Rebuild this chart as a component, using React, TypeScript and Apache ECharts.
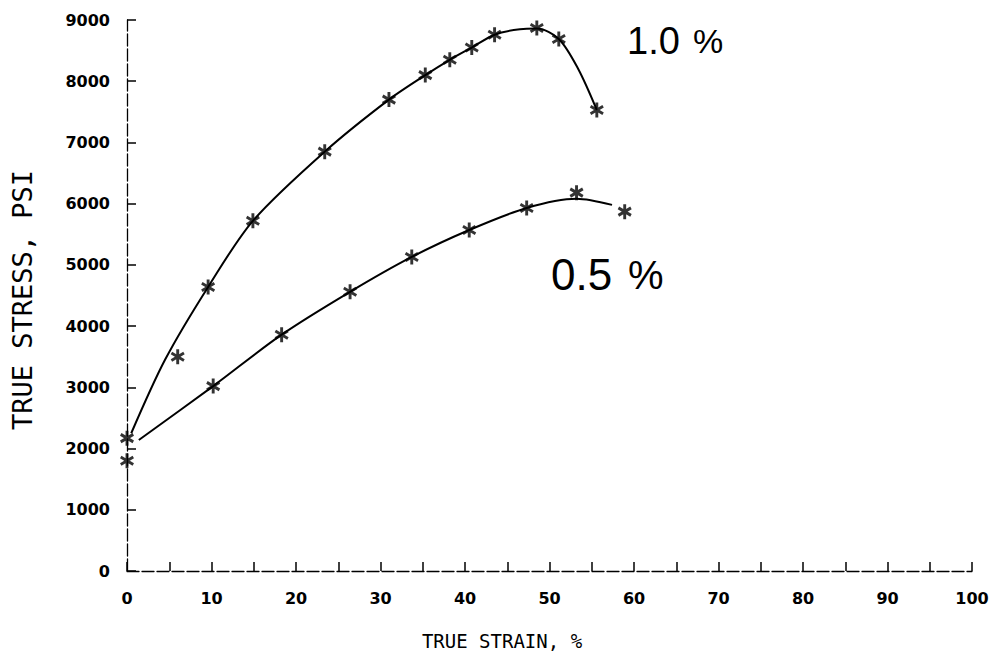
import React, { useEffect, useRef } from "react";
import * as echarts from "echarts";

// Measured points (asterisks)
const strainHigh = [0, 6.0, 9.6, 14.9, 23.4, 31.0, 35.3, 38.2, 40.8, 43.5, 48.5, 51.1, 55.6];
const stressHigh = [2170, 3500, 4640, 5720, 6850, 7700, 8100, 8350, 8550, 8760, 8870, 8690, 7530];
const strainLow = [0, 10.2, 18.3, 26.4, 33.7, 40.5, 47.3, 53.2, 58.9];
const stressLow = [1800, 3020, 3860, 4560, 5130, 5570, 5930, 6180, 5870];

// Drawn (fitted) curves
const curveHighStrain = [0.5, 4.5, 9.6, 14.9, 23.4, 31.0, 35.3, 38.2, 40.8, 43.5, 46.5, 48.5, 51.1, 53.4, 55.6];
const curveHighStress = [2250, 3450, 4640, 5720, 6850, 7700, 8100, 8350, 8550, 8760, 8850, 8860, 8690, 8200, 7530];
const curveLowStrain = [1.4, 10.2, 18.3, 26.4, 33.7, 40.5, 47.3, 53.2, 57.4];
const curveLowStress = [2140, 3020, 3860, 4560, 5130, 5570, 5930, 6080, 5980];

const xTicks = [0, 10, 20, 30, 40, 50, 60, 70, 80, 90, 100];
const yTicks = [0, 1000, 2000, 3000, 4000, 5000, 6000, 7000, 8000, 9000];

const labelHigh = "1.0";
const labelLow = "0.5";

const STAR =
  "path://M-2,-10L2,-10L2,10L-2,10Z" +
  "M-9.66,-3.27L-7.66,-6.73L9.66,3.27L7.66,6.73Z" +
  "M-7.66,6.73L-9.66,3.27L7.66,-6.73L9.66,-3.27Z";

const zip = (a: number[], b: number[]) => a.map((v, i) => [v, b[i]]);

export default function App() {
  const ref = useRef<HTMLDivElement>(null);
  useEffect(() => {
    if (!ref.current) return;
    const chart = echarts.init(ref.current, undefined, { renderer: "svg" });
    const mono = "'DejaVu Sans Mono', monospace";
    const tickFont = "'DejaVu Sans', sans-serif";
    chart.setOption({
      animation: false,
      backgroundColor: "#ffffff",
      grid: { left: 127, right: 20, top: 20, bottom: 93, containLabel: false },
      xAxis: {
        type: "value",
        min: 0,
        max: 100,
        interval: 5,
        axisLine: { show: true, lineStyle: { color: "#000", width: 1.3, type: [12, 3] } },
        axisTick: { show: true, inside: true, length: 9, lineStyle: { color: "#000", width: 1.5 } },
        axisLabel: {
          margin: 19,
          color: "#000",
          fontFamily: tickFont,
          fontWeight: "bold",
          fontSize: 16,
          formatter: (v: number) => (xTicks.indexOf(v) >= 0 ? String(v) : ""),
        },
        splitLine: { show: false },
      },
      yAxis: {
        type: "value",
        min: 0,
        max: 9000,
        interval: 1000,
        axisLine: { show: true, lineStyle: { color: "#000", width: 1.3, type: [12, 3] } },
        axisTick: { show: true, inside: true, length: 9, lineStyle: { color: "#000", width: 1.5 } },
        axisLabel: {
          margin: 17,
          color: "#000",
          fontFamily: tickFont,
          fontWeight: "bold",
          fontSize: 16,
          formatter: (v: number) => (yTicks.indexOf(v) >= 0 ? String(v) : ""),
        },
        splitLine: { show: false },
      },
      series: [
        {
          type: "line",
          data: zip(curveHighStrain, curveHighStress),
          smooth: 0.3,
          symbol: "none",
          lineStyle: { color: "#000", width: 2 },
          z: 2,
        },
        {
          type: "line",
          data: zip(curveLowStrain, curveLowStress),
          smooth: 0.3,
          symbol: "none",
          lineStyle: { color: "#000", width: 2 },
          z: 2,
        },
        {
          type: "scatter",
          data: zip(strainHigh, stressHigh),
          symbol: STAR,
          symbolSize: [14, 15],
          itemStyle: { color: "#000" },
          z: 3,
        },
        {
          type: "scatter",
          data: zip(strainLow, stressLow),
          symbol: STAR,
          symbolSize: [14, 15],
          itemStyle: { color: "#000" },
          z: 3,
        },
      ],
      graphic: [
        {
          type: "text",
          x: 502,
          y: 641,
          style: {
            text: "TRUE STRAIN, %",
            fontFamily: mono,
            fontSize: 19,
            fill: "#000",
            textAlign: "center",
            textVerticalAlign: "middle",
          },
        },
        {
          type: "text",
          x: 22,
          y: 300,
          rotation: Math.PI / 2,
          style: {
            text: "TRUE STRESS, PSI",
            fontFamily: mono,
            fontSize: 27,
            fill: "#000",
            textAlign: "center",
            textVerticalAlign: "middle",
          },
        },
        {
          type: "text",
          x: 627,
          y: 22,
          style: {
            text: labelHigh,
            fontFamily: "'Liberation Sans', Arial, sans-serif",
            fontSize: 38,
            fill: "#000",
            textAlign: "left",
            textVerticalAlign: "top",
          },
        },
        {
          type: "text",
          x: 693,
          y: 24,
          style: {
            text: "%",
            fontFamily: "'Liberation Sans', Arial, sans-serif",
            fontSize: 34,
            fill: "#000",
            textAlign: "left",
            textVerticalAlign: "top",
          },
        },
        {
          type: "text",
          x: 551,
          y: 252,
          style: {
            text: labelLow,
            fontFamily: "'Liberation Sans', Arial, sans-serif",
            fontSize: 44,
            fill: "#000",
            textAlign: "left",
            textVerticalAlign: "top",
          },
        },
        {
          type: "text",
          x: 628,
          y: 255,
          style: {
            text: "%",
            fontFamily: "'Liberation Sans', Arial, sans-serif",
            fontSize: 40,
            fill: "#000",
            textAlign: "left",
            textVerticalAlign: "top",
          },
        },
      ],
    });
    return () => chart.dispose();
  }, []);
  return (
    <div
      ref={ref}
      style={{ position: "fixed", left: 0, top: 0, width: 992, height: 664, background: "#fff" }}
    />
  );
}
